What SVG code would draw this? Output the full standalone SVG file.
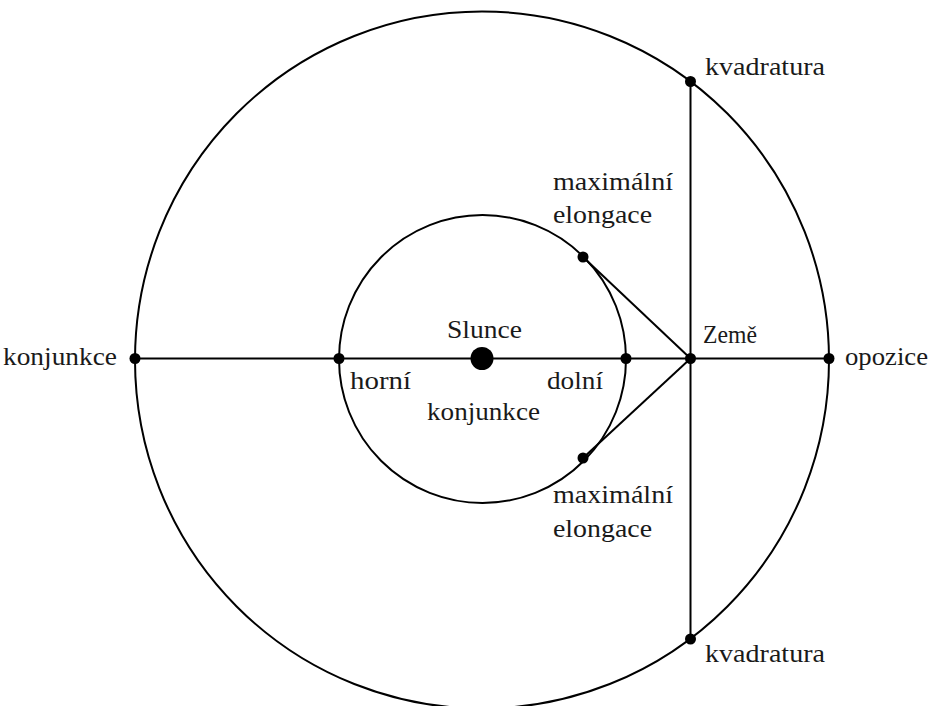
<svg xmlns="http://www.w3.org/2000/svg" width="937" height="706" viewBox="0 0 937 706">
<style>
.ln{fill:none;stroke:#000;stroke-width:2}
.dot{fill:#000}
text{font-family:"Liberation Serif","Times New Roman",serif;font-size:24.5px;fill:#1a1a1a}
</style>
<rect width="937" height="706" fill="#fff"/>
<g id="orbits">
<ellipse class="ln" cx="482" cy="360" rx="347" ry="348.5"/>
<ellipse class="ln" cx="482.5" cy="359" rx="143.5" ry="144"/>
</g>
<g id="connectors">
<line class="ln" x1="135" y1="358.5" x2="829" y2="358.5"/>
<line class="ln" x1="690.5" y1="81.5" x2="690.5" y2="639"/>
<line class="ln" x1="583" y1="257" x2="690.5" y2="358.5"/>
<line class="ln" x1="583" y1="458" x2="690.5" y2="358.5"/>
</g>
<g id="slunce">
<circle class="dot" cx="482" cy="358.5" r="11.5"/>
<text x="447" y="338" textLength="75" lengthAdjust="spacingAndGlyphs">Slunce</text>
</g>
<g id="konjunkce">
<circle class="dot" cx="135" cy="358.5" r="5.5"/>
<text x="3" y="365" textLength="114" lengthAdjust="spacingAndGlyphs">konjunkce</text>
</g>
<g id="opozice">
<circle class="dot" cx="829" cy="358.5" r="5.5"/>
<text x="845" y="365" textLength="83" lengthAdjust="spacingAndGlyphs">opozice</text>
</g>
<g id="zeme">
<circle class="dot" cx="690.5" cy="358.5" r="5.5"/>
<text x="703" y="343" textLength="54" lengthAdjust="spacingAndGlyphs">Země</text>
</g>
<g id="horni-konjunkce">
<circle class="dot" cx="339" cy="358.5" r="5.5"/>
<text x="350" y="389" textLength="61" lengthAdjust="spacingAndGlyphs">horní</text>
</g>
<g id="dolni-konjunkce">
<circle class="dot" cx="626" cy="358.5" r="5.5"/>
<text x="547" y="389" textLength="56" lengthAdjust="spacingAndGlyphs">dolní</text>
<text x="427" y="420" textLength="113" lengthAdjust="spacingAndGlyphs">konjunkce</text>
</g>
<g id="elongace-horni">
<circle class="dot" cx="583" cy="257" r="5.5"/>
<text x="553" y="190" textLength="120" lengthAdjust="spacingAndGlyphs">maximální</text>
<text x="553" y="223" textLength="99" lengthAdjust="spacingAndGlyphs">elongace</text>
</g>
<g id="elongace-dolni">
<circle class="dot" cx="583" cy="458" r="5.5"/>
<text x="553" y="503" textLength="120" lengthAdjust="spacingAndGlyphs">maximální</text>
<text x="553" y="537" textLength="99" lengthAdjust="spacingAndGlyphs">elongace</text>
</g>
<g id="kvadratura-horni">
<circle class="dot" cx="690.5" cy="81.5" r="5.5"/>
<text x="705" y="75" textLength="120" lengthAdjust="spacingAndGlyphs">kvadratura</text>
</g>
<g id="kvadratura-dolni">
<circle class="dot" cx="690.5" cy="639" r="5.5"/>
<text x="705" y="662" textLength="120" lengthAdjust="spacingAndGlyphs">kvadratura</text>
</g>
</svg>
